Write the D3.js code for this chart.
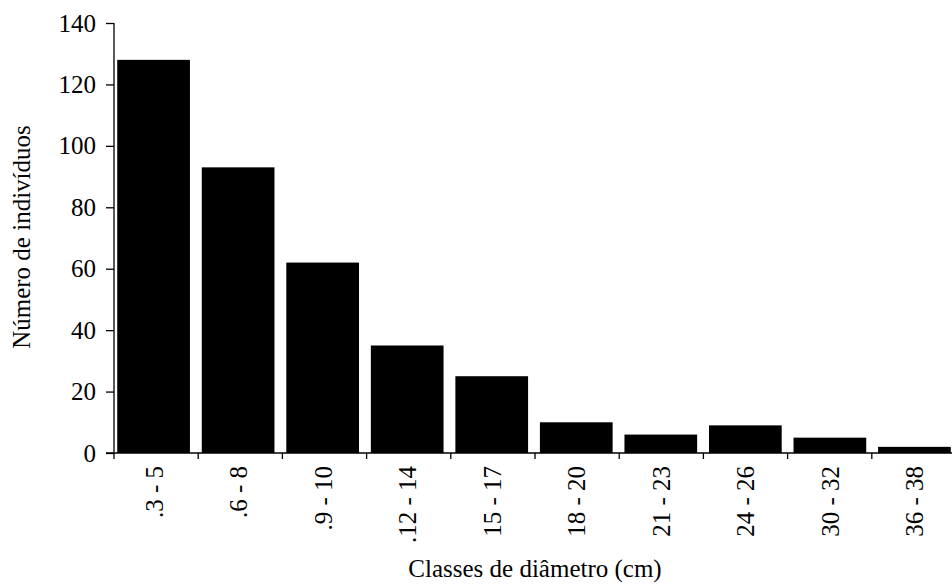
<!DOCTYPE html>
<html><head><meta charset="utf-8">
<script src="https://cdn.jsdelivr.net/npm/d3@7/dist/d3.min.js"></script>
<style>body{margin:0;background:#fff}svg{display:block}</style>
</head><body><svg id="c" width="952" height="584"></svg>
<script>
const categories = [".3 - 5", ".6 - 8", ".9 - 10", ".12 - 14", "15 - 17", "18 - 20", "21 - 23", "24 - 26", "30 - 32", "36 - 38"];
const values = [128, 93, 62, 35, 25, 10, 6, 9, 5, 2];
const yTicks = [0, 20, 40, 60, 80, 100, 120, 140];

(function () {
const svg = d3.select("#c");
const fs = 25;
const FF = '"Liberation Serif"';
const mLeft = 114, mRight = 956, mTop = 23, mBottom = 453;

const x = d3.scaleBand().domain(categories).range([mLeft, mRight]).paddingInner(0.14).paddingOuter(0.05);
const y = d3.scaleLinear().domain([0, 140]).range([mBottom, mTop]);

svg.append("g").selectAll("rect").data(values).join("rect")
  .attr("x", (d, i) => x(categories[i]) - 1)
  .attr("width", x.bandwidth())
  .attr("y", d => y(d))
  .attr("height", d => y(0) - y(d))
  .attr("fill", "#000");

const ya = svg.append("g").attr("transform", `translate(${mLeft},0)`)
  .call(d3.axisLeft(y).tickValues(yTicks).tickSize(8).tickPadding(10));
ya.attr("font-family", null).attr("font-size", null);
ya.select(".domain").attr("stroke", "#000").attr("stroke-width", 1.3).attr("d", `M0,${mTop}V${mBottom}`);
ya.selectAll(".tick line").attr("stroke-width", 1.3);
ya.selectAll("text").style("font-family", FF).attr("font-size", fs).attr("fill", "#000");

svg.append("line").attr("x1", mLeft - 8).attr("x2", mRight).attr("y1", mBottom).attr("y2", mBottom)
  .attr("stroke", "#000").attr("stroke-width", 1.3);
const bounds = d3.range(categories.length).map(i => mLeft + i * (mRight - mLeft) / categories.length);
svg.append("g").selectAll("line").data(bounds).join("line")
  .attr("x1", d => d).attr("x2", d => d).attr("y1", mBottom).attr("y2", mBottom + 6)
  .attr("stroke", "#000").attr("stroke-width", 1.3);

svg.append("g").selectAll("text").data(categories).join("text")
  .attr("transform", d => `translate(${x(d) + x.bandwidth() / 2 + 8},${mBottom + 13}) rotate(-90)`)
  .attr("text-anchor", "end")
  .style("font-family", FF).attr("font-size", fs).attr("fill", "#000")
  .text(d => d);

svg.append("text").attr("x", 535).attr("y", 577).attr("text-anchor", "middle")
  .style("font-family", FF).attr("font-size", fs).attr("fill", "#000")
  .text("Classes de diâmetro (cm)");

svg.append("text").attr("transform", `translate(30,237) rotate(-90)`).attr("text-anchor", "middle")
  .style("font-family", FF).attr("font-size", fs).attr("fill", "#000")
  .text("Número de indivíduos");
})();
</script></body></html>
